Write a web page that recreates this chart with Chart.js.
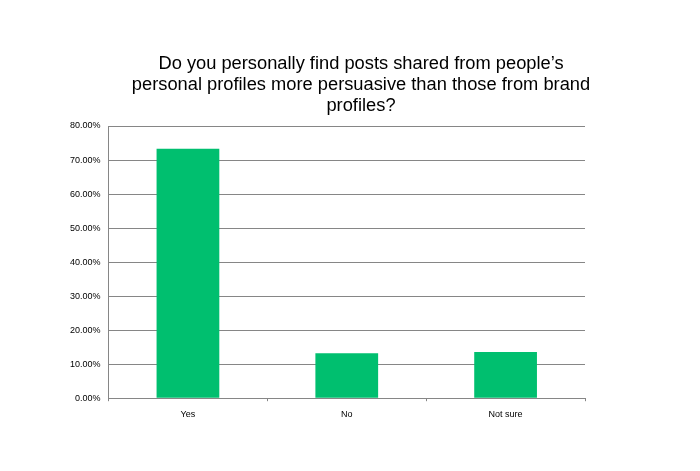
<!DOCTYPE html>
<html>
<head>
<meta charset="utf-8">
<script src="https://cdn.jsdelivr.net/npm/chart.js@4"></script>
<style>
  html, body { margin: 0; padding: 0; background: #fff; }
  #wrap { width: 700px; height: 471px; }
</style>
</head>
<body>
<div id="wrap"><canvas id="chart"></canvas></div>
<script>
const categories = ['Yes', 'No', 'Not sure'];
const shares = [73.3, 13.2, 13.6];
const yTicks = [0, 10, 20, 30, 40, 50, 60, 70, 80];
const titleLines = [
  'Do you personally find posts shared from people\u2019s',
  'personal profiles more persuasive than those from brand',
  'profiles?',
];

const grey = '#868686';

// title is centred over the whole page width in the source, so draw it ourselves
const titlePlugin = {
  id: 'pageTitle',
  afterDraw(chart) {
    const { ctx } = chart;
    ctx.save();
    ctx.font = '18.3px "Liberation Sans", Arial, sans-serif';
    ctx.fillStyle = '#000';
    ctx.textAlign = 'center';
    ctx.textBaseline = 'alphabetic';
    titleLines.forEach((line, i) => ctx.fillText(line, 361, 69 + i * 21));
    ctx.restore();
  },
};

new Chart(document.getElementById('chart'), {
  type: 'bar',
  data: {
    labels: categories,
    datasets: [{
      data: shares,
      backgroundColor: '#00BF6F',
      borderWidth: 0,
      barPercentage: 0.395,
      categoryPercentage: 1,
    }],
  },
  plugins: [titlePlugin],
  options: {
    responsive: true,
    maintainAspectRatio: false,
    animation: false,
    layout: { padding: { top: 126, right: 115, bottom: 43, left: 62 } },
    plugins: { legend: { display: false }, tooltip: { enabled: false }, title: { display: false } },
    scales: {
      x: {
        grid: { display: true, drawOnChartArea: false, drawTicks: true, tickLength: 3, color: grey, offset: true },
        border: { display: true, color: grey },
        ticks: { color: '#000', font: { family: '"Liberation Sans", Arial', size: 9 }, padding: 8 },
      },
      y: {
        min: 0,
        max: 80,
        afterBuildTicks: (axis) => { axis.ticks = yTicks.map((v) => ({ value: v })); },
        grid: { color: grey, drawTicks: false },
        border: { display: true, color: grey },
        ticks: {
          color: '#000',
          font: { family: '"Liberation Sans", Arial', size: 9 },
          padding: 8,
          callback: (v) => v.toFixed(2) + '%',
        },
      },
    },
  },
});
</script>
</body>
</html>
